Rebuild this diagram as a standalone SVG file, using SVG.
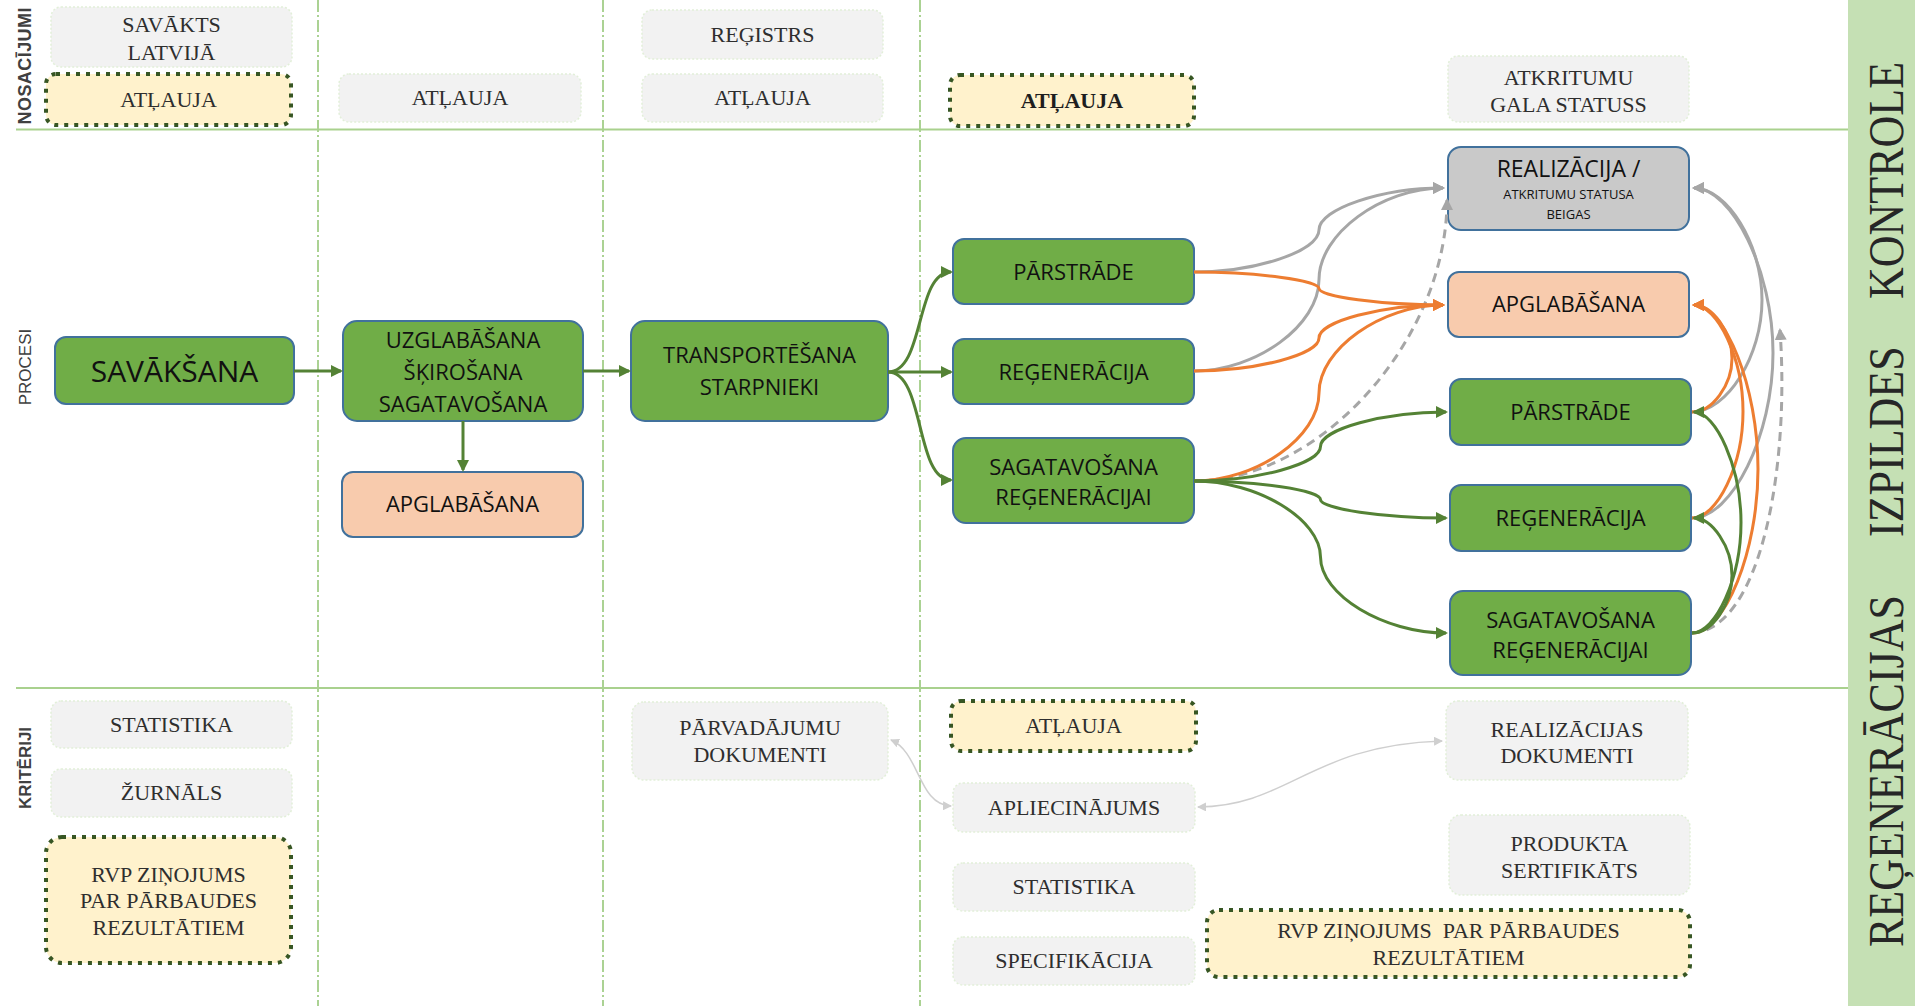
<svg xmlns="http://www.w3.org/2000/svg" width="1915" height="1006" viewBox="0 0 1915 1006">
<style>
.ct{font-family:"Liberation Serif","Times New Roman",serif;font-size:22px;fill:#2e2e2e;text-anchor:middle}
.pt{font-family:"Open Sans","Liberation Sans",sans-serif;font-size:22px;fill:#111;text-anchor:middle}
.gb{fill:#f2f2f2;stroke:#e2efd9;stroke-width:1.5;stroke-dasharray:2 2}
.yb{fill:#fff2cc;stroke:#375623;stroke-width:4;stroke-dasharray:4 6}
.gn{fill:#70ad47;stroke:#41719c;stroke-width:2}
.pc{fill:#f8cbad;stroke:#41719c;stroke-width:2}
.gr{fill:#c9c9c9;stroke:#41719c;stroke-width:2}
.vl{stroke:#7fba5a;stroke-width:1.3;stroke-dasharray:12 3 2 3;fill:none}
.hl{stroke:#a9d18e;stroke-width:2;fill:none}
.lab{font-family:"Liberation Sans",Arial,sans-serif;font-size:17px;fill:#404040;text-anchor:middle}
.cg{fill:none;stroke:#548235;stroke-width:3;marker-end:url(#ag)}
.co{fill:none;stroke:#ed7d31;stroke-width:3;marker-end:url(#ao)}
.cy{fill:none;stroke:#a6a6a6;stroke-width:3;marker-end:url(#ay)}
.cd{stroke-dasharray:9 6}
.cl{fill:none;stroke:#cfcfcf;stroke-width:1.5;marker-start:url(#al);marker-end:url(#al)}
</style>
<defs>
<marker id="ag" markerUnits="userSpaceOnUse" markerWidth="12" markerHeight="12" refX="10" refY="6" orient="auto"><path d="M0,0 L12,6 L0,12 z" fill="#548235"/></marker>
<marker id="ao" markerUnits="userSpaceOnUse" markerWidth="12" markerHeight="12" refX="10" refY="6" orient="auto"><path d="M0,0 L12,6 L0,12 z" fill="#ed7d31"/></marker>
<marker id="ay" markerUnits="userSpaceOnUse" markerWidth="12" markerHeight="12" refX="10" refY="6" orient="auto"><path d="M0,0 L12,6 L0,12 z" fill="#a6a6a6"/></marker>
<marker id="al" markerUnits="userSpaceOnUse" markerWidth="9" markerHeight="9" refX="8" refY="4.5" orient="auto-start-reverse"><path d="M0,0 L9,4.5 L0,9 z" fill="#cfcfcf"/></marker>
</defs>
<rect width="1915" height="1006" fill="#fff"/>
<g id="lanes">
<rect x="1848" y="0" width="67" height="1006" fill="#c5e0b4"/>
<line class="vl" x1="318" y1="0" x2="318" y2="1006"/>
<line class="vl" x1="603" y1="0" x2="603" y2="1006"/>
<line class="vl" x1="920" y1="0" x2="920" y2="1006"/>
<line class="hl" x1="16" y1="129.5" x2="1848" y2="129.5"/>
<line class="hl" x1="16" y1="688" x2="1848" y2="688"/>
<text class="lab" font-weight="bold" style="font-size:18px" textLength="117" transform="translate(31 66) rotate(-90)">NOSACĪJUMI</text>
<text class="lab" transform="translate(31 367) rotate(-90)">PROCESI</text>
<text class="lab" font-weight="bold" transform="translate(31 768) rotate(-90)">KRITĒRIJI</text>
<g transform="translate(1903 0) rotate(-90) scale(1 1.17)" font-family="'Liberation Serif','Times New Roman',serif" font-size="44" fill="#262626">
<text x="-947" y="0">REĢENERĀCIJAS</text>
<text x="-537" y="0">IZPILDES</text>
<text x="-299" y="0">KONTROLE</text>
</g>
</g>
<g id="h_savakts"><rect class="gb" x="51" y="7" width="241" height="60" rx="10"/><text class="ct"><tspan x="171.5" y="32">SAVĀKTS</tspan><tspan x="171.5" y="60">LATVIJĀ</tspan></text></g>
<g id="h_atlauja1"><rect class="yb" x="46" y="74" width="245" height="51" rx="10"/><text class="ct" x="168.5" y="107">ATĻAUJA</text></g>
<g id="h_atlauja2"><rect class="gb" x="339" y="74" width="242" height="48" rx="10"/><text class="ct" x="460" y="105">ATĻAUJA</text></g>
<g id="h_registrs"><rect class="gb" x="642" y="10" width="241" height="49" rx="10"/><text class="ct" x="762.5" y="42">REĢISTRS</text></g>
<g id="h_atlauja3"><rect class="gb" x="642" y="74" width="241" height="48" rx="10"/><text class="ct" x="762.5" y="105">ATĻAUJA</text></g>
<g id="h_atlauja4"><rect class="yb" x="950" y="75" width="244" height="51" rx="10"/><text class="ct" x="1072" y="108" font-weight="bold" style="fill:#1e1e1e">ATĻAUJA</text></g>
<g id="h_atkritumu"><rect class="gb" x="1448" y="56" width="241" height="66" rx="10"/><text class="ct"><tspan x="1568.5" y="85">ATKRITUMU</tspan><tspan x="1568.5" y="112">GALA STATUSS</tspan></text></g>

<g id="p_savaksana"><rect class="gn" x="55" y="337" width="239" height="67" rx="11"/><text class="pt" x="174.5" y="382" style="font-size:30px">SAVĀKŠANA</text></g>
<g id="p_uzglabasana"><rect class="gn" x="343" y="321" width="240" height="100" rx="14"/><text class="pt"><tspan x="463" y="348">UZGLABĀŠANA</tspan><tspan x="463" y="380">ŠĶIROŠANA</tspan><tspan x="463" y="412">SAGATAVOŠANA</tspan></text></g>
<g id="p_apglabasana1"><rect class="pc" x="342" y="472" width="241" height="65" rx="11"/><text class="pt" x="462.5" y="512">APGLABĀŠANA</text></g>
<g id="p_transport"><rect class="gn" x="631" y="321" width="257" height="100" rx="14"/><text class="pt"><tspan x="759.5" y="363">TRANSPORTĒŠANA</tspan><tspan x="759.5" y="395">STARPNIEKI</tspan></text></g>
<g id="p_parstrade1"><rect class="gn" x="953" y="239" width="241" height="65" rx="11"/><text class="pt" x="1073.5" y="280">PĀRSTRĀDE</text></g>
<g id="p_regeneracija1"><rect class="gn" x="953" y="339" width="241" height="65" rx="11"/><text class="pt" x="1073.5" y="380">REĢENERĀCIJA</text></g>
<g id="p_sagatavosana1"><rect class="gn" x="953" y="438" width="241" height="85" rx="13"/><text class="pt"><tspan x="1073.5" y="475">SAGATAVOŠANA</tspan><tspan x="1073.5" y="505">REĢENERĀCIJAI</tspan></text></g>
<g id="p_realizacija"><rect class="gr" x="1448" y="147" width="241" height="83" rx="13"/><text class="pt"><tspan x="1568.5" y="177" font-size="23">REALIZĀCIJA /</tspan><tspan x="1568.5" y="199" font-size="13">ATKRITUMU STATUSA</tspan><tspan x="1568.5" y="219" font-size="13">BEIGAS</tspan></text></g>
<g id="p_apglabasana2"><rect class="pc" x="1448" y="272" width="241" height="65" rx="11"/><text class="pt" x="1568.5" y="312">APGLABĀŠANA</text></g>
<g id="p_parstrade2"><rect class="gn" x="1450" y="379" width="241" height="66" rx="11"/><text class="pt" x="1570.5" y="420">PĀRSTRĀDE</text></g>
<g id="p_regeneracija2"><rect class="gn" x="1450" y="485" width="241" height="66" rx="11"/><text class="pt" x="1570.5" y="526">REĢENERĀCIJA</text></g>
<g id="p_sagatavosana2"><rect class="gn" x="1450" y="591" width="241" height="84" rx="13"/><text class="pt"><tspan x="1570.5" y="628">SAGATAVOŠANA</tspan><tspan x="1570.5" y="658">REĢENERĀCIJAI</tspan></text></g>

<g id="k_statistika1"><rect class="gb" x="51" y="701" width="241" height="47" rx="10"/><text class="ct" x="171.5" y="732">STATISTIKA</text></g>
<g id="k_zurnals"><rect class="gb" x="51" y="769" width="241" height="48" rx="10"/><text class="ct" x="171.5" y="800">ŽURNĀLS</text></g>
<g id="k_rvp1"><rect class="yb" x="46" y="837" width="245" height="126" rx="16"/><text class="ct"><tspan x="168.5" y="882">RVP ZIŅOJUMS</tspan><tspan x="168.5" y="908">PAR PĀRBAUDES</tspan><tspan x="168.5" y="935">REZULTĀTIEM</tspan></text></g>
<g id="k_parvadajumu"><rect class="gb" x="632" y="702" width="256" height="78" rx="12"/><text class="ct"><tspan x="760" y="735">PĀRVADĀJUMU</tspan><tspan x="760" y="762">DOKUMENTI</tspan></text></g>
<g id="k_atlauja"><rect class="yb" x="951" y="701" width="245" height="50" rx="10"/><text class="ct" x="1073.5" y="733">ATĻAUJA</text></g>
<g id="k_apliecinajums"><rect class="gb" x="953" y="783" width="242" height="49" rx="10"/><text class="ct" x="1074" y="815">APLIECINĀJUMS</text></g>
<g id="k_statistika2"><rect class="gb" x="953" y="863" width="242" height="48" rx="10"/><text class="ct" x="1074" y="894">STATISTIKA</text></g>
<g id="k_specifikacija"><rect class="gb" x="953" y="937" width="242" height="48" rx="10"/><text class="ct" x="1074" y="968">SPECIFIKĀCIJA</text></g>
<g id="k_rvp2"><rect class="yb" x="1207" y="910" width="483" height="67" rx="12"/><text class="ct" style="white-space:pre"><tspan x="1448.5" y="938">RVP ZIŅOJUMS  PAR PĀRBAUDES</tspan><tspan x="1448.5" y="965">REZULTĀTIEM</tspan></text></g>
<g id="k_realizacijas"><rect class="gb" x="1446" y="701" width="242" height="79" rx="12"/><text class="ct"><tspan x="1567" y="737">REALIZĀCIJAS</tspan><tspan x="1567" y="763">DOKUMENTI</tspan></text></g>
<g id="k_produkta"><rect class="gb" x="1449" y="815" width="241" height="80" rx="12"/><text class="ct"><tspan x="1569.5" y="851">PRODUKTA</tspan><tspan x="1569.5" y="878">SERTIFIKĀTS</tspan></text></g>

<g id="connectors">
<path class="cl" d="M 891 740 C 920 752, 918 805, 951 806"/>
<path class="cl" d="M 1198 807 C 1290 806, 1310 745, 1442 741"/>
<path class="cy" d="M 1194 272 C 1256.5 272, 1319 251, 1319 230 C 1319 209, 1381.5 188, 1443 188"/>
<path class="cy" d="M 1194 371 C 1256.5 371, 1319 325.25, 1319 279.5 C 1319 233.75, 1381.5 188, 1443 188"/>
<path class="cy" d="M 1692 412 C 1727 412, 1762 356, 1762 300 C 1762 244, 1727 188, 1694 188"/>
<path class="cy" d="M 1692 518 C 1732 518, 1773 435.5, 1773 353 C 1773 270.5, 1732 188, 1694 188"/>
<path class="cy cd" d="M 1194 481 C 1320.5 481, 1447 339.5, 1447 200"/>
<path class="cy cd" d="M 1692 633 C 1760 630, 1790 470, 1780 330"/>
<path class="co" d="M 1194 272 C 1256.5 272, 1319 280.25, 1319 288.5 C 1319 296.75, 1381.5 305, 1443 305"/>
<path class="co" d="M 1194 371 C 1256.5 371, 1319 354.5, 1319 338 C 1319 321.5, 1381.5 305, 1443 305"/>
<path class="co" d="M 1194 481 C 1256.5 481, 1319 437, 1319 393 C 1319 349, 1381.5 305, 1443 305"/>
<path class="co" d="M 1692 412 C 1712 412, 1732 385.25, 1732 358.5 C 1732 331.75, 1712 305, 1694 305"/>
<path class="co" d="M 1692 518 C 1717.5 518, 1743 464.75, 1743 411.5 C 1743 358.25, 1717.5 305, 1694 305"/>
<path class="co" d="M 1692 633 C 1725 633, 1758 551, 1758 469 C 1758 387, 1725 305, 1694 305"/>
<path class="cg" d="M 294 371 H 341"/>
<path class="cg" d="M 463 421 V 470"/>
<path class="cg" d="M 583 371 H 629"/>
<path class="cg" d="M 888 372 C 925 372, 915 272, 951 272"/>
<path class="cg" d="M 888 372 H 951"/>
<path class="cg" d="M 888 372 C 925 372, 915 480, 951 480"/>
<path class="cg" d="M 1194 481 C 1257.25 481, 1320.5 463.75, 1320.5 446.5 C 1320.5 429.25, 1383.75 412, 1446 412"/>
<path class="cg" d="M 1194 481 C 1257.25 481, 1320.5 490.25, 1320.5 499.5 C 1320.5 508.75, 1383.75 518, 1446 518"/>
<path class="cg" d="M 1194 481 C 1257.25 481, 1320.5 519, 1320.5 557 C 1320.5 595, 1383.75 633, 1446 633"/>
<path class="cg" d="M 1692 633 C 1716 633, 1741 577.75, 1741 522.5 C 1741 467.25, 1716 412, 1694 412"/>
<path class="cg" d="M 1692 633 C 1712 633, 1732 604.25, 1732 575.5 C 1732 546.75, 1712 518, 1694 518"/>
</g>
</svg>
